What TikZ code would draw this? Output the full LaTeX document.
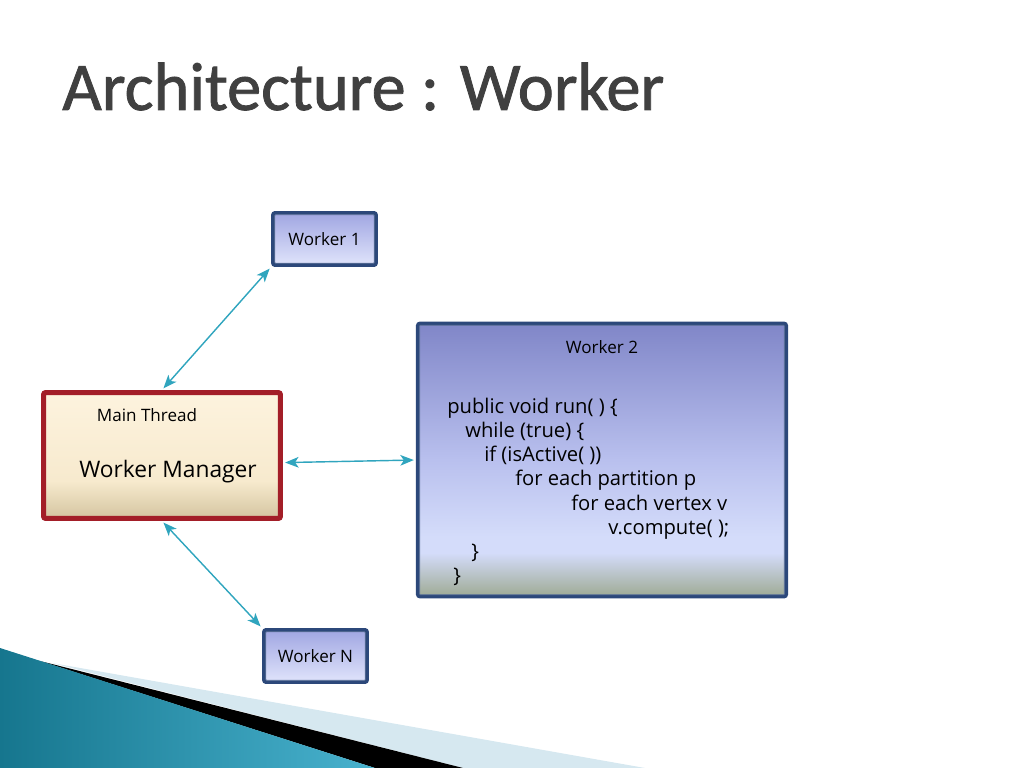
\documentclass[tikz,border=0pt]{standalone}
\usepackage{fontspec}
\setmainfont{Open Sans}
\newfontfamily\titlefont[FakeBold=1.2]{Carlito}
\usetikzlibrary{arrows.meta}

\definecolor{wnavy}{RGB}{44,72,122}
\definecolor{wtop}{RGB}{160,166,226}
\definecolor{wbot}{RGB}{224,228,251}
\definecolor{mred}{RGB}{163,30,40}
\definecolor{mtop}{RGB}{253,243,222}
\definecolor{mmid}{RGB}{247,234,206}
\definecolor{mbot}{RGB}{212,196,160}
\definecolor{wtwotop}{RGB}{128,134,200}
\definecolor{wtwomid}{RGB}{185,192,238}
\definecolor{wtwopale}{RGB}{212,220,250}
\definecolor{wtwogreen}{RGB}{158,170,148}
\definecolor{arrowteal}{RGB}{48,165,190}
\definecolor{titlegray}{RGB}{64,64,64}
\definecolor{tealdark}{RGB}{22,118,142}
\definecolor{teallight}{RGB}{72,178,206}
\definecolor{stripe}{RGB}{214,232,240}

\pgfdeclareverticalshading{wtwoshade}{100bp}{color(0bp)=(wtwogreen); color(25bp)=(wtwogreen); color(33bp)=(wtwopale); color(36bp)=(wtwopale); color(50bp)=(wtwomid); color(75bp)=(wtwotop); color(100bp)=(wtwotop)}
\pgfdeclareverticalshading{mainshade}{100bp}{color(0bp)=(mbot); color(25bp)=(mbot); color(40bp)=(mmid); color(75bp)=(mtop); color(100bp)=(mtop)}

\begin{document}
\begin{tikzpicture}[x=0.703125pt, y=-0.703125pt,
    worker/.style={draw=wnavy, line width=2.6pt, rounded corners=1.5pt, inner sep=0pt},
    smallw/.style={worker, top color=wtop, bottom color=wbot, minimum width=72.5pt, minimum height=36.7pt},
    link/.style={draw=arrowteal, line width=1pt, <->, >={Stealth[length=9.5pt, width=7.5pt, inset=2.5pt]}, shorten <=1.5pt, shorten >=1.5pt}]
      \useasboundingbox (0, 0) rectangle (1024, 768);
      % bottom left decoration
      \fill[stripe] (52, 663) -- (645, 768) -- (463, 768) -- cycle;
      \fill[black] (40, 661) -- (463, 768) -- (375, 768) -- cycle;
      \shade[left color=tealdark, right color=teallight] (0, 648) -- (375, 768) -- (0, 768) -- cycle;
      % title
      \node[anchor=base west, inner sep=0pt, text=titlegray, font=\titlefont\fontsize{48}{52}\selectfont] (title) at (62, 110) {Architecture : Worker};
      % workers
      \node[smallw, font=\fontsize{12}{14}\selectfont] (w1) at (324.5, 239) {Worker 1};
      \node[smallw, font=\fontsize{12}{14}\selectfont] (wn) at (315.5, 656) {Worker N};
      \node[worker, shading=wtwoshade, minimum width=259pt, minimum height=192pt] (w2) at (602, 460) {};
      \foreach \b in {w1, wn, w2}
        \draw[wnavy!75, line width=0.5pt, rounded corners=0.5pt] ([shift={(2.6pt,2.6pt)}]\b.south west) rectangle ([shift={(-2.6pt,-2.6pt)}]\b.north east);
      \node[font=\fontsize{12}{14}\selectfont] (w2label) at (602, 347) {Worker 2};
      \node[anchor=west, inner sep=0pt, align=left, font=\fontsize{14.2}{17}\selectfont] (code) at (447, 492) {public void run( ) \{\\
        \hspace*{12.7pt}while (true) \{\\
        \hspace*{26pt}if (isActive( ))\\
        \hspace*{47.8pt}for each partition p\\
        \hspace*{87.2pt}for each vertex v\\
        \hspace*{113.2pt}v.compute( );\\
        \hspace*{16.9pt}\}\\
        \hspace*{4.2pt}\}};
      % main thread
      \node[draw=mred, line width=3.6pt, rounded corners=1.5pt, shading=mainshade, minimum width=166.5pt, minimum height=88.5pt] (main) at (162, 455.5) {};
      \node[font=\fontsize{12}{14}\selectfont] (mthread) at (147, 415) {Main Thread};
      \node[font=\fontsize{16}{18}\selectfont] (wmanager) at (168, 472) {Worker Manager};
      % connectors
      \draw[link] (main.north) -- (w1.south west);
      \draw[link] ([yshift=-5pt]main.east) -- (w2.west);
      \draw[link] (main.south) -- (wn.north west);
\end{tikzpicture}
\end{document}
